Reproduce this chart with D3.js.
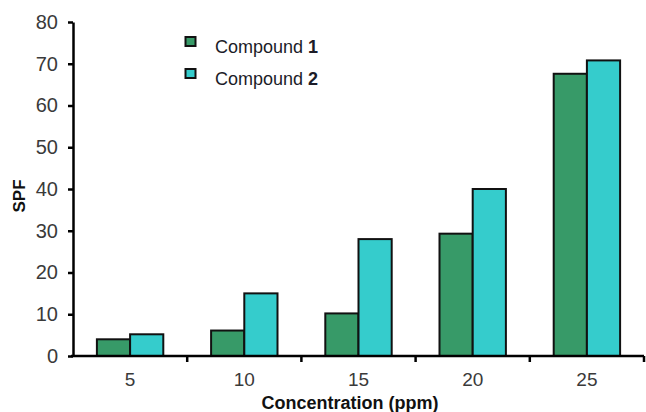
<!DOCTYPE html>
<html>
<head>
<meta charset="utf-8">
<script src="https://cdn.jsdelivr.net/npm/d3@7/dist/d3.min.js"></script>
<style>
  html, body { margin: 0; padding: 0; background: #fff; }
  svg { display: block; font-family: "Liberation Sans", Arial, sans-serif; }
</style>
</head>
<body>
<svg id="chart" width="646" height="412"></svg>
<script>
// SPF measured at each concentration for the two compounds
const concentrations = ["5", "10", "15", "20", "25"];
const compound1 = [4.0, 6.1, 10.2, 29.3, 67.6];
const compound2 = [5.2, 15.0, 28.0, 40.0, 70.8];
const seriesNames = ["1", "2"];
const yTicks = [0, 10, 20, 30, 40, 50, 60, 70, 80];

const colors = ["#379a68", "#35cccc"];

const svg = d3.select("#chart");
const x0 = 73, x1 = 644, yTop = 22, yBottom = 356;

const x = d3.scaleBand().domain(concentrations).range([x0, x1]).paddingInner(0).paddingOuter(0);
const xInner = d3.scaleBand().domain(seriesNames).range([0, x.bandwidth()]).paddingInner(0).paddingOuter(0.72);
const y = d3.scaleLinear().domain([0, 80]).range([yBottom, yTop]);

const rows = concentrations.map((c, i) => ({ c, values: [compound1[i], compound2[i]] }));

// bars
const groups = svg.append("g").selectAll("g").data(rows).join("g")
  .attr("transform", d => `translate(${x(d.c)},0)`);
groups.selectAll("rect").data(d => d.values.map((v, k) => ({ v, k })))
  .join("rect")
  .attr("x", d => xInner(seriesNames[d.k]))
  .attr("width", xInner.bandwidth())
  .attr("y", d => y(d.v))
  .attr("height", d => y(0) - y(d.v))
  .attr("fill", d => colors[d.k])
  .attr("stroke", "#111")
  .attr("stroke-width", 2);

// y axis
const yAxis = svg.append("g").attr("transform", `translate(${x0},0)`)
  .call(d3.axisLeft(y).tickValues(yTicks).tickSize(5).tickPadding(10).tickSizeOuter(0));
yAxis.select(".domain").attr("stroke", "#000").attr("stroke-width", 2.5);
yAxis.selectAll(".tick line").attr("stroke", "#000").attr("stroke-width", 2.5);
yAxis.selectAll(".tick text").attr("fill", "#3a3a3a").style("font-size", "20px");

// x axis: ticks sit at the band boundaries, labels at band centres
const boundaries = concentrations.map(c => x(c) + x.bandwidth());
const xAxisG = svg.append("g").attr("transform", `translate(0,${yBottom})`);
xAxisG.append("line").attr("x1", x0 - 2).attr("x2", x1).attr("stroke", "#000").attr("stroke-width", 2.5);
xAxisG.selectAll("line.tk").data(boundaries).join("line").attr("class", "tk")
  .attr("x1", d => d).attr("x2", d => d).attr("y1", 0).attr("y2", 6)
  .attr("stroke", "#000").attr("stroke-width", 2.5);
xAxisG.selectAll("text").data(concentrations).join("text")
  .attr("x", d => x(d) + x.bandwidth() / 2)
  .attr("y", 30)
  .attr("text-anchor", "middle")
  .attr("fill", "#3a3a3a")
  .style("font-size", "19px")
  .text(d => d);

// axis titles
svg.append("text").attr("x", 350).attr("y", 409).attr("text-anchor", "middle")
  .style("font-size", "18px").style("font-weight", "bold").attr("fill", "#111")
  .text("Concentration (ppm)");
svg.append("text").attr("transform", "translate(25,196) rotate(-90)").attr("text-anchor", "middle")
  .style("font-size", "17px").style("font-weight", "bold").attr("fill", "#111")
  .text("SPF");

// legend
const legend = svg.append("g");
seriesNames.forEach((s, k) => {
  const ly = 37 + k * 32;
  legend.append("rect").attr("x", 185.5).attr("y", ly).attr("width", 10).attr("height", 9)
    .attr("fill", colors[k]).attr("stroke", "#111").attr("stroke-width", 2);
  const t = legend.append("text").attr("x", 215).attr("y", ly + 15.5).attr("fill", "#1c1c28")
    .style("font-size", "18px");
  t.append("tspan").text("Compound ");
  t.append("tspan").style("font-weight", "bold").text(s);
});
</script>
</body>
</html>
